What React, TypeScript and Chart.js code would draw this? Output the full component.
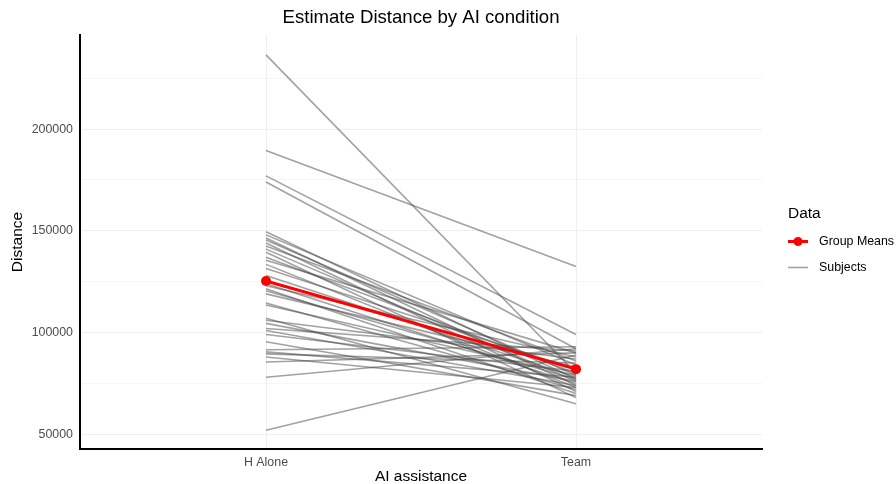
import React, { useEffect, useRef } from 'react';
import { Chart, registerables } from 'chart.js';

Chart.register(...registerables);

const conditions = ['H Alone', 'Team'];
const hAloneValues = [
  236500, 189500, 177000, 174000, 149500, 148000, 146500, 145500, 144000, 142500,
  141000, 139500, 137000, 135500, 133500, 131500, 128000, 124000, 123000, 121500,
  120500, 119000, 114500, 113500, 107000, 106000, 104500, 102000, 101000, 99000,
  95500, 91500, 90500, 89500, 88000, 85500, 78000, 52000,
];
const teamValues = [
  80000, 132500, 99000, 92000, 77000, 84000, 74000, 79000, 71000, 86000,
  76000, 68000, 80000, 90000, 73000, 82000, 78000, 75000, 88000, 70000,
  77000, 83000, 72000, 79000, 65000, 87000, 76000, 91000, 74000, 81000,
  69000, 93000, 78000, 85000, 73000, 90000, 92000, 89000,
];
const groupMeans = [125300, 82000];
const yMajorTicks = [50000, 100000, 150000, 200000];
const yMinorTicks = [75000, 125000, 175000, 225000];

const FONT = '"Liberation Sans", Arial, sans-serif';
const SUBJECT_COLOR = 'rgba(70,70,70,0.5)';

export default function App() {
  const ref = useRef<HTMLCanvasElement>(null);

  useEffect(() => {
    document.body.style.margin = '0';
    const canvas = ref.current;
    if (!canvas) return;

    const subjectDatasets = hAloneValues.map((v, i) => ({
      label: 'Subjects',
      data: [
        { x: 1, y: v },
        { x: 2, y: teamValues[i] },
      ],
      borderColor: SUBJECT_COLOR,
      backgroundColor: SUBJECT_COLOR,
      borderWidth: 1.6,
      pointRadius: 0,
      order: 1,
    }));

    const meanDataset = {
      label: 'Group Means',
      data: groupMeans.map((v, i) => ({ x: i + 1, y: v })),
      borderColor: '#ff0000',
      backgroundColor: '#ff0000',
      borderWidth: 3,
      pointRadius: 5,
      pointBorderWidth: 0,
      pointBackgroundColor: '#ff0000',
      order: 0,
    };

    const textPlugin = {
      id: 'textPlugin',
      afterDraw(chart: any) {
        const ctx = chart.ctx as CanvasRenderingContext2D;
        const area = chart.chartArea;
        const cx = (area.left + area.right) / 2;
        ctx.save();
        ctx.fillStyle = '#000';
        ctx.textAlign = 'center';
        ctx.textBaseline = 'middle';
        ctx.font = `18.6px ${FONT}`;
        ctx.fillText('Estimate Distance by AI condition', cx, 18);
        ctx.font = `15.5px ${FONT}`;
        ctx.fillText('AI assistance', cx, 477);
        ctx.save();
        ctx.translate(17.5, (area.top + area.bottom) / 2);
        ctx.rotate(-Math.PI / 2);
        ctx.fillText('Distance', 0, 0);
        ctx.restore();

        // Legend
        ctx.textAlign = 'left';
        ctx.font = `15.5px ${FONT}`;
        ctx.fillText('Data', 788, 214);
        // Group Means key
        ctx.strokeStyle = '#ff0000';
        ctx.lineWidth = 3;
        ctx.beginPath();
        ctx.moveTo(788, 241.5);
        ctx.lineTo(808, 241.5);
        ctx.stroke();
        ctx.fillStyle = '#ff0000';
        ctx.beginPath();
        ctx.arc(798, 241.5, 4.5, 0, Math.PI * 2);
        ctx.fill();
        // Subjects key
        ctx.strokeStyle = SUBJECT_COLOR;
        ctx.lineWidth = 1.6;
        ctx.beginPath();
        ctx.moveTo(788, 267.5);
        ctx.lineTo(808, 267.5);
        ctx.stroke();
        ctx.fillStyle = '#000';
        ctx.font = `12.4px ${FONT}`;
        ctx.fillText('Group Means', 819, 242);
        ctx.fillText('Subjects', 819, 268);
        ctx.restore();
      },
    };

    const chart = new Chart(canvas, {
      type: 'line',
      data: {
        datasets: [meanDataset, ...subjectDatasets] as any,
      },
      options: {
        animation: false,
        responsive: false,
        maintainAspectRatio: false,
        layout: { padding: { top: 35, right: 134, left: 0, bottom: 0 } },
        plugins: {
          legend: { display: false },
          tooltip: { enabled: false },
          title: { display: false },
        },
        scales: {
          x: {
            type: 'linear',
            min: 0.4,
            max: 2.6,
            afterBuildTicks: (s: any) => {
              s.ticks = [{ value: 1 }, { value: 2 }];
            },
            afterFit: (s: any) => {
              s.height = 35;
            },
            ticks: {
              callback: (v: any) => conditions[Math.round(Number(v)) - 1] ?? '',
              font: { family: FONT, size: 12.4 },
              color: '#4d4d4d',
              padding: 6,
              maxRotation: 0,
              autoSkip: false,
            },
            grid: { color: '#efefef', lineWidth: 1, drawTicks: false },
            border: { display: true, color: '#000', width: 2 },
          },
          y: {
            type: 'linear',
            min: 42750,
            max: 246250,
            afterBuildTicks: (s: any) => {
              s.ticks = [...yMajorTicks, ...yMinorTicks]
                .sort((a, b) => a - b)
                .map((v) => ({ value: v }));
            },
            afterFit: (s: any) => {
              s.width = 80;
            },
            ticks: {
              callback: (v: any) => (yMajorTicks.includes(Number(v)) ? String(v) : ''),
              font: { family: FONT, size: 12.4 },
              color: '#4d4d4d',
              padding: 7,
              autoSkip: false,
            },
            grid: {
              color: '#efefef',
              lineWidth: (c: any) => (c.tick && yMajorTicks.includes(c.tick.value) ? 1 : 0.6),
              drawTicks: false,
            },
            border: { display: true, color: '#000', width: 2 },
          },
        },
      },
      plugins: [textPlugin],
    });

    return () => chart.destroy();
  }, []);

  return (
    <div style={{ width: 896, height: 484 }}>
      <canvas ref={ref} width={896} height={484} style={{ width: 896, height: 484, display: 'block' }} />
    </div>
  );
}
